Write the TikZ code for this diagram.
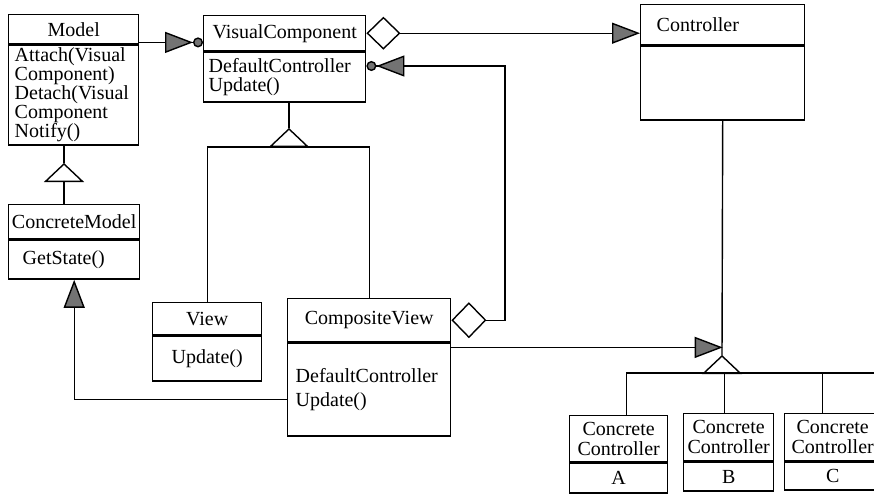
\documentclass[tikz,border=0pt]{standalone}
\usepackage{fontspec}
\setmainfont{Liberation Serif}
\usetikzlibrary{arrows.meta,positioning}

\begin{document}
\begin{tikzpicture}[x=1pt,y=-1pt,line width=1.4pt,node distance=0pt,
	font=\fontsize{20}{19}\selectfont,
	cls/.style={draw,inner sep=0pt,anchor=north west,align=center},
	ops/.style={draw,inner sep=0pt,align=left},
	assoc/.style={-{Triangle[length=28pt,width=21pt,fill=black!55]}},
	uses/.style={-{Triangle[length=28pt,width=21pt,fill=black!55]Circle[length=10pt,fill=black!55]}},
	aggassoc/.style={{Diamond[open,length=34pt,width=33pt]}-{Triangle[length=28pt,width=21pt,fill=black!55]}},
	agguses/.style={{Diamond[open,length=35pt,width=36pt]}-{Triangle[length=28pt,width=21pt,fill=black!55]Circle[length=10pt,fill=black!55]}},
	isa/.style={-{Triangle[open,length=19pt,width=40pt]}},
	twoline/.style={font=\fontsize{20}{20}\selectfont}]
	\clip (0,0) rectangle (874,493);
	\node[cls,minimum width=130pt,minimum height=29pt](model) at (8,14) {Model};
	\node[ops,text width=118pt,inner xsep=6pt,minimum height=100pt](modelops)[below=of model]
		{Attach(Visual\\Component)\\Detach(Visual\\Component\\Notify()};
	\node[cls,minimum width=162pt,minimum height=35pt](vc) at (203,15) {VisualComponent};
	\node[ops,text width=152pt,inner xsep=5pt,minimum height=50pt](vcops)[below=of vc]
		{DefaultController\\Update()};
	\node[ops,anchor=north west,text width=132pt,inner xsep=16pt,minimum height=40pt](ctrl) at (640,4) {Controller};
	\node[ops,text width=132pt,inner xsep=16pt,minimum height=74pt](ctrlops)[below=of ctrl] {};
	\node[cls,minimum width=131pt,minimum height=34pt](cmodel) at (8,204) {ConcreteModel};
	\node[ops,text width=103pt,inner xsep=14pt,minimum height=39pt](cmodelops)[below=of cmodel] {GetState()};
	\node[cls,minimum width=109pt,minimum height=32pt](view) at (152,302) {View};
	\node[cls,anchor=north,minimum width=109pt,minimum height=45pt](viewops)[below=of view] {Update()};
	\node[cls,minimum width=163pt,minimum height=43pt](cview) at (287,298) {CompositeView};
	\node[ops,text width=147pt,inner xsep=8pt,minimum height=93pt](cviewops)[below=of cview]
		{DefaultController\\[5pt]Update()};
	\node[cls,twoline,minimum width=98pt,minimum height=46pt](ca) at (569,415) {Concrete\\Controller};
	\node[cls,anchor=north,minimum width=98pt,minimum height=30pt](caops)[below=of ca] {A};
	\node[cls,twoline,minimum width=90pt,minimum height=47pt](cb) at (683,413) {Concrete\\Controller};
	\node[cls,anchor=north,minimum width=90pt,minimum height=29pt](cbops)[below=of cb] {B};
	\node[cls,twoline,minimum width=96pt,minimum height=47pt](cc) at (784,413) {Concrete\\Controller};
	\node[cls,anchor=north,minimum width=96pt,minimum height=28pt](ccops)[below=of cc] {C};

	% associations
	\draw[uses] ([yshift=2pt]model.south east) -- ([yshift=2pt]model.south east -| vc.west);
	\draw[aggassoc] (vc.east) -- (vc.east -| ctrl.west);
	\coordinate (bend) at (505,66);
	\draw[agguses] (cview.east) -| (bend) -- (bend -| vcops.east);
	\draw[assoc] ([yshift=-10pt]cviewops.west) -| (cmodelops.south);
	\draw[assoc] ([yshift=-5pt]cviewops.north east) -- ([yshift=-5pt]cviewops.north east -| ctrlops.south);

	% inheritance
	\coordinate (mtip) at (64,163);
	\coordinate (mbase) at (64,182);
	\draw (modelops.south -| mtip) -- (mtip);
	\draw[isa] (cmodel.north -| mbase) -- (mtip);
	\coordinate (vtip) at (289,128);
	\coordinate (vbase) at (289,147);
	\draw (vcops.south -| vtip) -- (vtip);
	\draw[isa] (vbase) -- (vtip);
	\draw (view.north) |- (vbase) -| (cview.north);
	\coordinate (ctip) at (722,355);
	\coordinate (cbase) at (722,373);
	\draw (ctrlops.south) -- (ctip);
	\draw[isa] (cbase) -- (ctip);
	\draw ([xshift=8pt]ca.north) |- (cbase) -| ([xshift=-10pt]cc.north);
	\draw ([xshift=-4pt]cb.north) -- ([xshift=-4pt]cb.north |- cbase);
	\draw ([xshift=-10pt]cc.north |- cbase) -- ++(60,0);
\end{tikzpicture}
\end{document}
